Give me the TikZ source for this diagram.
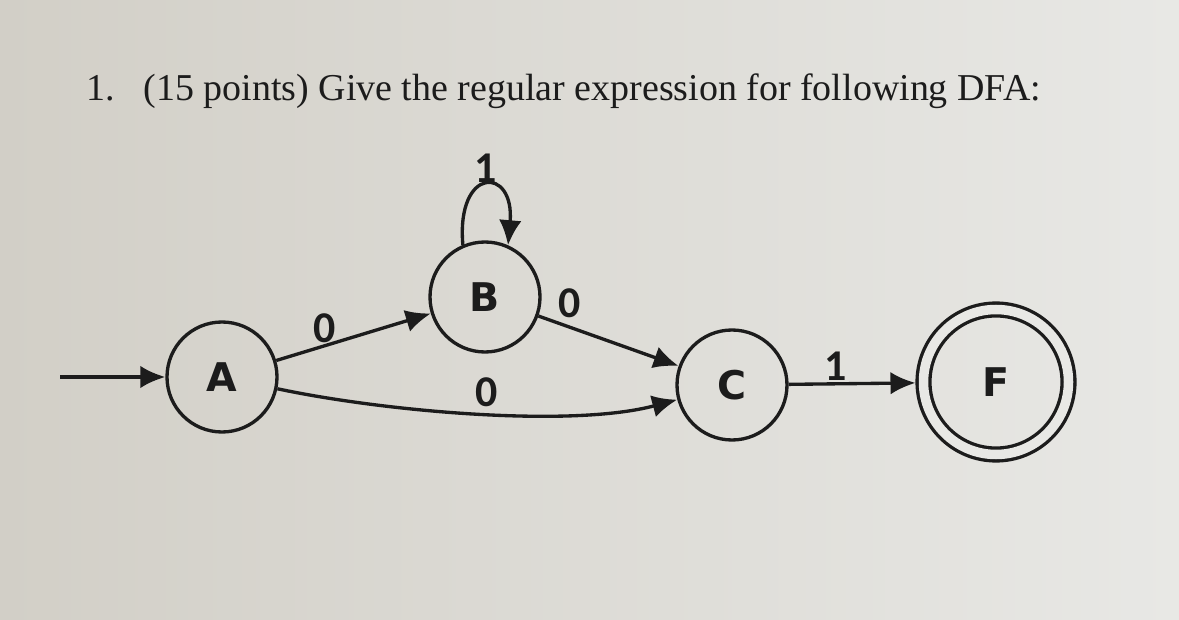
\documentclass[tikz,border=0pt]{standalone}
\usepackage{fontspec}
\setmainfont{Liberation Serif}
\newfontfamily\statefont{DejaVu Sans}
\newfontfamily\edgefont{Carlito}
\usetikzlibrary{arrows.meta}

\begin{document}
\begin{tikzpicture}[>={Latex[length=0.5cm,width=0.45cm]},line width=1.9pt,
	state/.style={circle,draw=ink,text=ink,inner sep=0pt,minimum size=2.2cm,
		font=\statefont\bfseries\fontsize{22.5}{22}\selectfont},
	accept/.style={state,double=paperR,double distance=0.19cm,minimum size=2.9cm,outer sep=0.16cm},
	lbl/.style={text=ink,inner sep=1pt,font=\edgefont\bfseries\fontsize{25}{25}\selectfont}]

\definecolor{ink}{rgb}{0.11,0.11,0.11}
\definecolor{paperL}{RGB}{210,207,199}
\definecolor{paperR}{RGB}{232,232,229}

\shade[left color=paperL,right color=paperR] (0,0) rectangle (23.58,12.38);
\useasboundingbox (0,0) rectangle (23.58,12.38);

\node (title) [anchor=base west,inner sep=0pt,text=ink,font=\fontsize{21.6}{25}\selectfont]
	at (1.7,10.36) {1.\hspace{0.75em}(15 points) Give the regular expression for following DFA:};

\node[state] (A) at (4.44,4.84) {A};
\node[state] (B) at (9.70,6.44) {B};
\node[state] (C) at (14.64,4.68) {C};
\node[accept] (F) at (19.92,4.74) {F};
\coordinate (start) at (1.2,4.84);

\draw[->,ink] (start) -- (A);
\draw[->,ink] (A) -- node[lbl,pos=0.31,above] {0} (B);
\draw[->,ink] (B.113) to[out=95,in=85,looseness=4.5] node[lbl,above] {1} (B.66);
\draw[->,ink] (B) -- node[lbl,pos=0.22,above=0.12cm] {0} (C);
\draw[->,ink] (A) to[out=-12,in=195,looseness=0.7] node[lbl,pos=0.52,above=2pt] {0} (C);
\draw[->,ink] (C) -- node[lbl,pos=0.37,above] {1} (F);

\end{tikzpicture}
\end{document}
